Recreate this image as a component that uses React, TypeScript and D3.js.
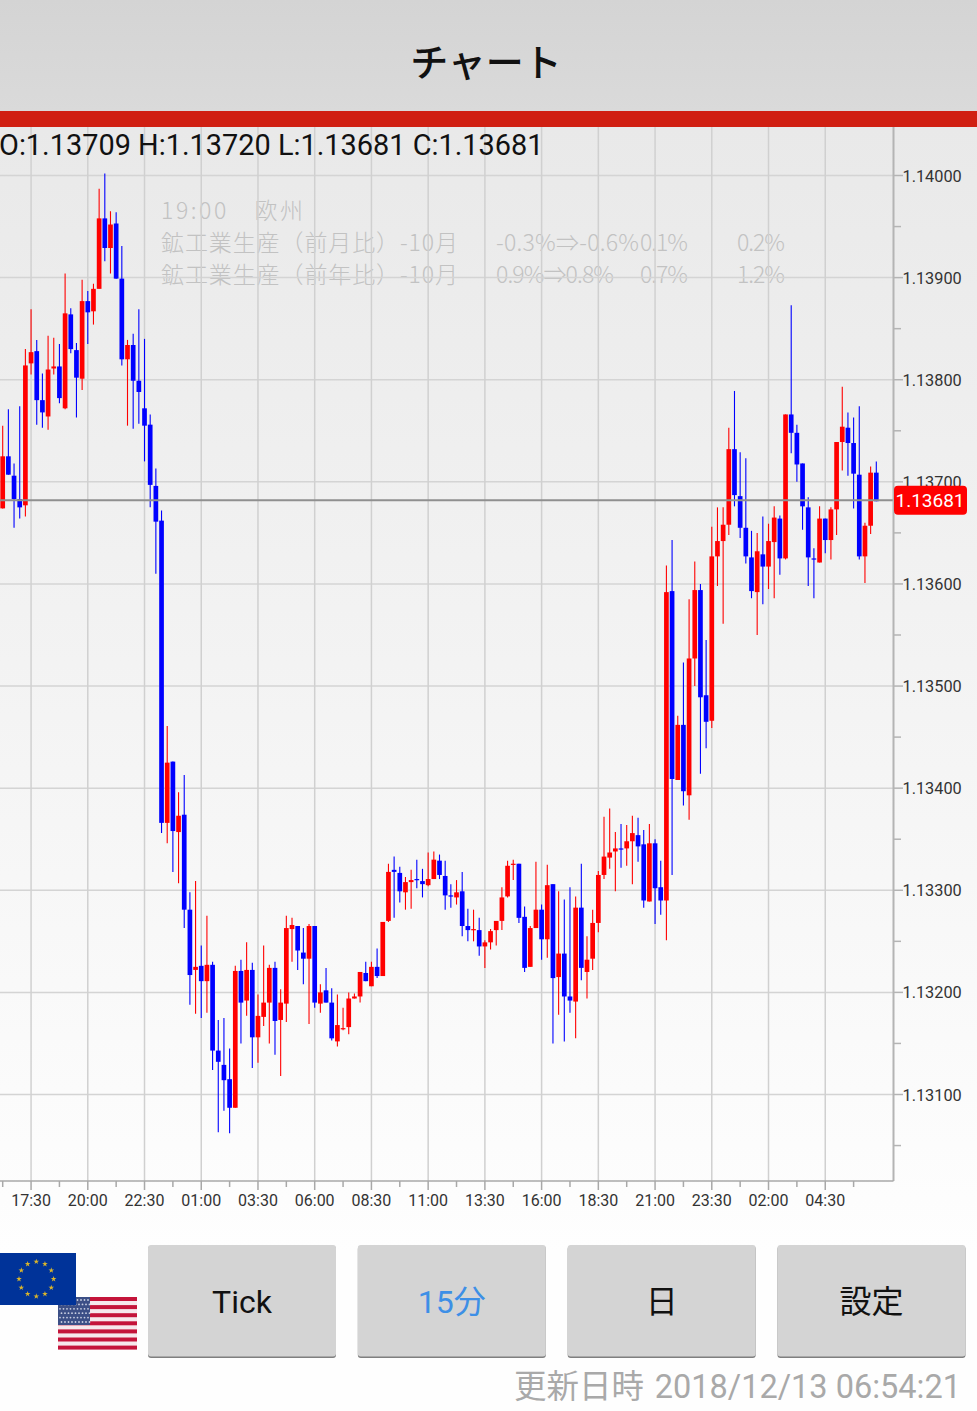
import * as d3 from "d3";
import React from "react";

// 15 minute candles, prices in 1/100000
const opens = [
  113674,113725,113706,113683,113677,113816,113828,113780,113764,113811,
  113813,113772,113864,113829,113801,113877,113867,113889,113958,113929,
  113953,113899,113820,113834,113799,113772,113756,113696,113662,113366,
  113426,113357,113374,113281,113222,113226,113211,113227,113143,113129,
  113115,113087,113221,113192,113222,113156,113176,113190,113224,113173,
  113189,113262,113265,113239,113233,113265,113189,113202,113190,113152,
  113164,113166,113194,113196,113219,113206,113225,113216,113270,113320,
  113317,113298,113308,113311,113309,113305,113311,113329,113314,113295,
  113293,113299,113265,113261,113261,113245,113249,113261,113270,113294,
  113325,113326,113274,113225,113263,113281,113252,113306,113215,113238,
  113196,113191,113283,113220,113233,113268,113315,113332,113338,113341,
  113341,113348,113354,113345,113289,113346,113303,113290,113593,113408,
  113462,113393,113527,113594,113491,113466,113627,113642,113658,113732,
  113686,113655,113626,113592,113629,113617,113641,113664,113625,113766,
  113748,113718,113675,113625,113621,113664,113643,113673,113739,113753,
  113738,113707,113627,113657,113709,
];
const highs = [
  113755,113771,113718,113774,113830,113869,113839,113806,113843,113841,
  113835,113904,113870,113836,113898,113887,113894,113987,114002,113965,
  113964,113931,113839,113845,113869,113840,113766,113713,113672,113461,
  113426,113396,113413,113298,113309,113246,113275,113230,113173,113175,
  113145,113226,113232,113249,113229,113198,113246,113227,113230,113203,
  113275,113273,113265,113263,113267,113265,113208,113224,113204,113198,
  113185,113200,113199,113220,113230,113230,113243,113269,113326,113333,
  113323,113313,113320,113330,113321,113337,113338,113335,113329,113306,
  113310,113318,113282,113281,113273,113251,113262,113270,113303,113329,
  113330,113326,113284,113265,113328,113286,113325,113306,113299,113291,
  113303,113294,113326,113255,113281,113319,113372,113380,113357,113365,
  113364,113373,113371,113359,113365,113350,113329,113618,113643,113471,
  113523,113585,113622,113600,113545,113656,113675,113675,113753,113789,
  113729,113723,113652,113650,113666,113659,113676,113667,113766,113873,
  113756,113718,113685,113635,113676,113664,113675,113739,113793,113768,
  113763,113774,113660,113715,113720,
];
const lows = [
  113674,113707,113655,113664,113666,113805,113756,113753,113751,113805,
  113777,113771,113826,113763,113790,113835,113854,113889,113916,113904,
  113899,113814,113755,113752,113757,113720,113675,113610,113356,113346,
  113318,113307,113263,113188,113179,113175,113180,113124,113063,113084,
  113062,113087,113150,113177,113126,113131,113167,113150,113139,113118,
  113171,113230,113222,113208,113169,113185,113180,113190,113153,113147,
  113163,113159,113194,113190,113211,113206,113214,113216,113269,113273,
  113288,113281,113282,113302,113293,113304,113311,113311,113281,113283,
  113286,113255,113250,113250,113236,113224,113242,113246,113261,113293,
  113310,113268,113220,113225,113263,113232,113234,113150,113178,113152,
  113180,113155,113212,113194,113222,113259,113311,113321,113299,113322,
  113324,113306,113328,113283,113289,113267,113276,113251,113315,113408,
  113383,113369,113500,113414,113439,113459,113598,113561,113648,113676,
  113645,113620,113586,113550,113580,113595,113586,113609,113624,113728,
  113700,113653,113598,113586,113621,113630,113624,113648,113711,113706,
  113674,113624,113601,113649,113681,
];
const closes = [
  113725,113707,113683,113675,113814,113827,113780,113768,113810,113813,
  113782,113865,113830,113802,113877,113866,113889,113958,113929,113952,
  113899,113820,113834,113799,113788,113755,113697,113661,113366,113425,
  113358,113373,113281,113217,113225,113211,113227,113143,113132,113114,
  113087,113221,113190,113222,113156,113177,113190,113224,113172,113190,
  113263,113266,113241,113233,113265,113190,113200,113190,113155,113168,
  113165,113194,113196,113220,113211,113225,113216,113269,113318,113318,
  113299,113308,113310,113310,113306,113311,113330,113315,113295,113294,
  113298,113265,113261,113262,113245,113249,113260,113270,113293,113324,
  113326,113273,113224,113263,113281,113252,113305,113214,113238,113196,
  113192,113283,113224,113232,113268,113315,113333,113337,113341,113340,
  113348,113356,113343,113290,113346,113302,113290,113592,113409,113462,
  113397,113527,113594,113489,113465,113627,113642,113658,113732,113687,
  113655,113627,113593,113632,113617,113642,113665,113625,113766,113748,
  113717,113676,113626,113624,113664,113643,113673,113739,113754,113738,
  113708,113627,113657,113709,113681,
];

const timeLabels = ["17:30","20:00","22:30","01:00","03:30","06:00","08:30","11:00","13:30","16:00","18:30","21:00","23:30","02:00","04:30"];
const buttonLabels = ["Tick", "15分", "日", "設定"];
const eventRows = [
  ["鉱工業生産（前月比）-10月", "-0.3%⇒-0.6%", "0.1%", "0.2%"],
  ["鉱工業生産（前年比）-10月", "0.9%⇒0.8%", "0.7%", "1.2%"],
];

const W = 977;
const H = 1411;
const plotTop = 127;
const plotRight = 893.5;
const plotBottom = 1181;
const lastPrice = closes[closes.length - 1];
const sans = "Roboto, 'Noto Sans CJK JP', sans-serif";
const cjk = "'Noto Sans CJK JP', sans-serif";

const x = d3.scaleLinear().domain([0, opens.length - 1]).range([2.7, 876.3]);
const y = d3.scaleLinear().domain([114000, 113100]).range([175.5, 1094.5]);
const buttonX = d3.scaleLinear().domain([0, 3]).range([148, 777.5]);
const fmt = (v: number) => (v / 100000).toFixed(5);

const majorPrices = d3.range(113100, 114001, 100);
const minorPrices = d3.range(113050, 114000, 100);
const majorIdx = timeLabels.map((_, i) => 5 + i * 10);
const minorIdx = d3.range(0, opens.length, 10);
const lastY = y(lastPrice) - 1;

const star = d3.symbol().type(d3.symbolStar).size(10)()!;

export default function App() {
  return (
    <svg width={W} height={H} style={{ position: "absolute", left: 0, top: 0 }} fontFamily={sans}>
      <defs>
        <linearGradient id="bg" x1="0" x2="0" y1="0" y2="1">
          <stop offset="0" stopColor="#e9e9e9" />
          <stop offset="1" stopColor="#fefefe" />
        </linearGradient>
        <linearGradient id="head" x1="0" x2="0" y1="0" y2="1">
          <stop offset="0" stopColor="#d4d4d4" />
          <stop offset="1" stopColor="#dadada" />
        </linearGradient>
      </defs>
      <rect x={0} y={plotTop} width={W} height={H - plotTop} fill="#fefefe" />
      <rect x={0} y={plotTop} width={W} height={1125} fill="url(#bg)" />

      {/* header */}
      <rect x={0} y={0} width={W} height={111} fill="url(#head)" />
      <rect x={0} y={111} width={W} height={16} fill="#d01f12" />
      <text x={486} y={76} textAnchor="middle" fontFamily={cjk} fontSize={38} fontWeight={500} fill="#111">チャート</text>

      {/* event note */}
      <g fontFamily={cjk} fontSize={23} fontWeight={300} fill="#c2c2c2">
        <text x={161} y={219} textLength={142}>19:00　欧州</text>
        {eventRows.map((r, i) => (
          <g key={i}>
            <text x={161} y={251 + i * 32} textLength={297}>{r[0]}</text>
            <text x={496} y={251 + i * 32} textLength={i === 0 ? 143 : 118}>{r[1]}</text>
            <text x={640} y={251 + i * 32} textLength={48}>{r[2]}</text>
            <text x={737} y={251 + i * 32} textLength={48}>{r[3]}</text>
          </g>
        ))}
      </g>

      {/* grid */}
      {majorPrices.map((p) => (
        <line key={p} x1={0} x2={plotRight} y1={y(p)} y2={y(p)} stroke="#d4d4d4" strokeWidth={1.5} />
      ))}
      {majorIdx.map((i) => (
        <line key={i} x1={x(i)} x2={x(i)} y1={plotTop} y2={plotBottom} stroke="#d0d0d0" strokeWidth={1.5} />
      ))}

      {/* candles */}
      {opens.map((o, i) => {
        const c = closes[i];
        const color = c >= o ? "#ff0000" : "#0000ff";
        const top = y(Math.max(o, c));
        const bottom = y(Math.min(o, c));
        return (
          <g key={i}>
            <line x1={x(i)} x2={x(i)} y1={y(highs[i])} y2={y(lows[i])} stroke={color} strokeWidth={1.1} />
            <rect x={x(i) - 2.35} y={top} width={4.7} height={Math.max(bottom - top, 1.2)} fill={color} />
          </g>
        );
      })}

      {/* last price line */}
      <line x1={0} x2={plotRight} y1={lastY} y2={lastY} stroke="#8f8f8f" strokeWidth={2} />

      {/* right axis */}
      <line x1={plotRight} x2={plotRight} y1={plotTop} y2={plotBottom} stroke="#b4b4b4" strokeWidth={2} />
      {minorPrices.map((p) => (
        <line key={p} x1={plotRight} x2={901} y1={y(p)} y2={y(p)} stroke="#b4b4b4" strokeWidth={1.5} />
      ))}
      {majorPrices.map((p) => (
        <g key={p}>
          <line x1={plotRight} x2={903} y1={y(p)} y2={y(p)} stroke="#b4b4b4" strokeWidth={1.5} />
          <text x={902.5} y={y(p) + 6} fontSize={16.3} fill="#333">{fmt(p)}</text>
        </g>
      ))}
      <rect x={894} y={lastY - 14.5} width={73} height={29} rx={4} fill="#ff0000" />
      <text x={930} y={lastY + 7} textAnchor="middle" fontSize={19} fill="#fff">{fmt(lastPrice)}</text>

      {/* bottom axis */}
      <line x1={0} x2={plotRight} y1={plotBottom} y2={plotBottom} stroke="#a8a8a8" strokeWidth={1.5} />
      {minorIdx.map((i) => (
        <line key={i} x1={x(i)} x2={x(i)} y1={plotBottom} y2={1187} stroke="#a8a8a8" strokeWidth={1.5} />
      ))}
      {majorIdx.map((i, k) => (
        <g key={i}>
          <line x1={x(i)} x2={x(i)} y1={plotBottom} y2={1190} stroke="#a8a8a8" strokeWidth={1.5} />
          <text x={x(i)} y={1206} textAnchor="middle" fontSize={16} fill="#333">{timeLabels[k]}</text>
        </g>
      ))}

      {/* OHLC readout */}
      <text x={-1} y={155} fontSize={28.9} fill="#111">
        {`O:${fmt(opens[opens.length - 1])} H:${fmt(highs[highs.length - 1])} L:${fmt(lows[lows.length - 1])} C:${fmt(lastPrice)}`}
      </text>

      {/* flags */}
      <g>
        <rect x={58} y={1297} width={79} height={52} fill="#f6e8ec" />
        {d3.range(7).map((k) => (
          <rect key={k} x={58} y={1297 + k * 8.1} width={79} height={4} fill="#c4143a" />
        ))}
        <rect x={58} y={1297} width={32} height={28} fill="#3c4f86" />
        {d3.range(6).map((r) =>
          d3.range(9).map((k) => (
            <circle key={`${r}-${k}`} cx={60 + k * 3.5 + (r % 2) * 1.5} cy={1300 + r * 4.4} r={0.9} fill="#c9cfe2" />
          ))
        )}
        <rect x={0} y={1253} width={76} height={52} fill="#003399" />
        {d3.range(12).map((k) => {
          const a = (k * Math.PI) / 6;
          return (
            <path key={k} d={star} fill="#d9b52c" transform={`translate(${36.3 + 17.3 * Math.sin(a)},${1279 - 17.3 * Math.cos(a)})`} />
          );
        })}
      </g>

      {/* buttons */}
      {buttonLabels.map((b, i) => (
        <g key={b}>
          <rect x={buttonX(i)} y={1246} width={188} height={112} rx={3} fill="#7f7f7f" />
          <rect x={buttonX(i)} y={1245} width={188} height={111.5} rx={3} fill="#d4d4d4" />
          <text
            x={buttonX(i) + 94}
            y={1313}
            textAnchor="middle"
            fontSize={32}
            fill={b === "15分" ? "#3d8fe6" : "#111"}
          >
            {b}
          </text>
        </g>
      ))}

      {/* footer */}
      <text x={514} y={1398} fontSize={32.5} fill="#a9a9a9" fontFamily={cjk}>更新日時</text>
      <text x={961} y={1398} textAnchor="end" fontSize={32.5} fill="#a9a9a9">2018/12/13 06:54:21</text>
    </svg>
  );
}
